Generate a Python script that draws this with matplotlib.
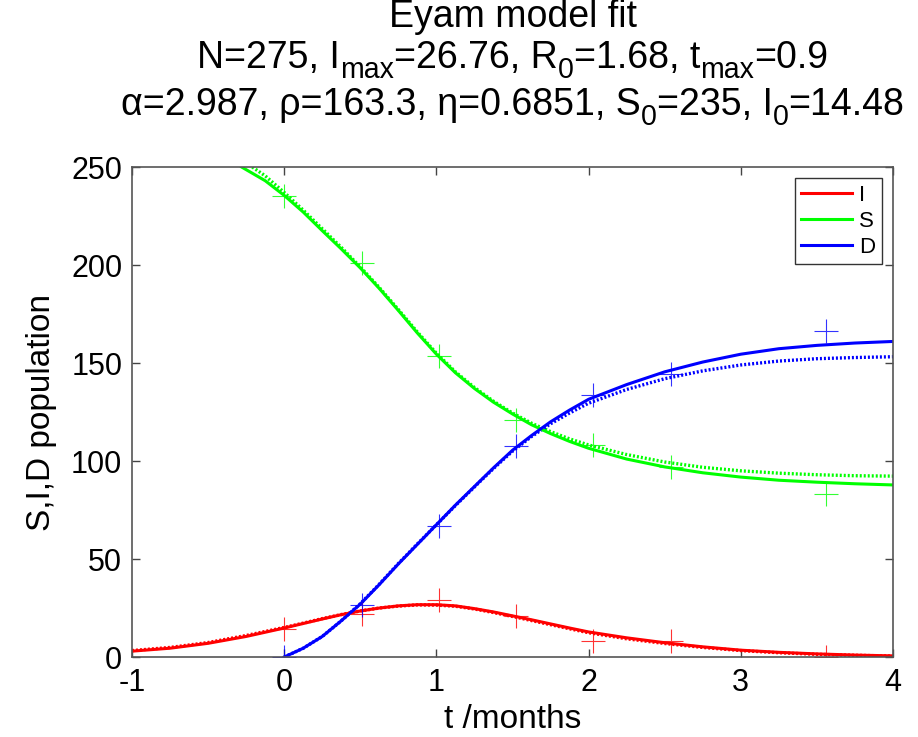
import numpy as np
import matplotlib
matplotlib.use('Agg')
from matplotlib import pyplot as plt

plt.rcParams['font.family'] = ['Liberation Sans', 'DejaVu Sans']
plt.rcParams['axes.unicode_minus'] = False

# observed data (months since first record)
t_obs = [0, 0.51, 1.02, 1.52, 2.03, 2.54, 3.56]
S_obs = [235, 201, 153.5, 121, 108, 97, 83]
I_obs = [14.5, 22, 29, 21, 8, 8, 0]
D_obs = [0, 26.5, 67, 107.5, 133.5, 144.5, 166.5]

# fitted curves: solid = main fit, dotted = alternative fit
t_I = [-1, -0.75, -0.5, -0.25, 0, 0.125, 0.25, 0.375, 0.5, 0.625, 0.75, 0.875, 1.0,
       1.125, 1.25, 1.375, 1.5, 1.625, 1.75, 1.875, 2.0, 2.25, 2.5, 2.75, 3.0, 3.25, 3.5, 3.75, 4.0]
I_fit = [3, 4.5, 7, 10.5, 14.8, 17.1, 19.4, 21.6, 23.5, 25, 26.1, 26.7, 26.7,
         26.1, 24.7, 23, 21, 19, 16.9, 14.8, 12.8, 9.8, 7.3, 5.2, 3.5, 2.4, 1.6, 1.0, 0.6]
I_alt = [3.3, 4.9, 7.4, 11, 15.1, 17.3, 19.6, 21.7, 23.5, 25, 26, 26.6, 26.5,
         25.9, 24.5, 22.7, 20.7, 18.6, 16.5, 14.4, 12.4, 9.3, 6.9, 4.9, 3.3, 2.2, 1.4, 0.9, 0.5]

t_S = [-0.28, -0.125, 0, 0.125, 0.25, 0.375, 0.5, 0.625, 0.75, 0.875, 1.0, 1.125, 1.25,
       1.375, 1.5, 1.625, 1.75, 1.875, 2.0, 2.25, 2.5, 2.75, 3.0, 3.25, 3.5, 3.75, 4.0]
S_fit = [250, 243, 235.5, 227, 217.5, 208.2, 198.5, 188, 176.8, 165.3, 154.5, 145, 137,
         130, 124, 118.5, 114, 110, 106.5, 101, 97, 94, 91.8, 90.2, 89.2, 88.4, 87.8]
t_S2 = [-0.21, -0.125, 0, 0.125, 0.25, 0.375, 0.5, 0.625, 0.75, 0.875, 1.0, 1.125, 1.25,
        1.375, 1.5, 1.625, 1.75, 1.875, 2.0, 2.25, 2.5, 2.75, 3.0, 3.25, 3.5, 3.75, 4.0]
S_alt = [250, 245.5, 237, 228, 218.5, 209, 199, 188.5, 177.3, 165.8, 155, 145.5, 137.5,
         130.5, 124.5, 119.3, 115, 111.3, 108.2, 103.3, 99.5, 96.8, 95, 93.8, 93, 92.5, 92.3]

t_D = [0, 0.125, 0.25, 0.375, 0.5, 0.625, 0.75, 0.875, 1.0, 1.125, 1.25, 1.375, 1.5,
       1.625, 1.75, 1.875, 2.0, 2.25, 2.5, 2.75, 3.0, 3.25, 3.5, 3.75, 4.0]
D_fit = [0, 4.5, 10.5, 18.5, 27, 37, 47.5, 57.5, 67.5, 77.5, 87, 96.5, 105.5,
         113, 120, 126, 131.5, 139, 145.5, 150.5, 154.5, 157.3, 159, 160.2, 161]
D_alt = [0, 4.5, 10.5, 18.5, 27.2, 37.2, 47.7, 57.7, 67.5, 77.3, 86.8, 96.2, 105,
         112.5, 119, 124.5, 129.5, 136.5, 142, 146, 149, 151, 152.2, 152.8, 153.2]

W, H = 918, 737
fig = plt.figure(figsize=(W / 100, H / 100), dpi=100)
ax = fig.add_axes([0.1438, 0.1085, 0.829, 0.6649])

red, green, blue = '#ff0000', '#00ff00', '#0000ff'
dots = (0, (0.6, 0.6))

ax.plot(t_I, I_alt, color=red, lw=2.4, linestyle=dots)
ax.plot(t_S2, S_alt, color=green, lw=2.4, linestyle=dots)
ax.plot(t_D, D_alt, color=blue, lw=2.4, linestyle=dots)
lI, = ax.plot(t_I, I_fit, color=red, lw=2.2, label='I')
lS, = ax.plot(t_S, S_fit, color=green, lw=2.2, label='S')
lD, = ax.plot(t_D, D_fit, color=blue, lw=2.2, label='D')

ax.plot(t_obs, I_obs, '+', color=red, ms=17, mew=0.8, alpha=0.8)
ax.plot(t_obs, S_obs, '+', color=green, ms=17, mew=0.8, alpha=0.8)
ax.plot(t_obs, D_obs, '+', color=blue, ms=17, mew=0.8, alpha=0.8)

ax.set_xlim(-1, 4)
ax.set_ylim(0, 250)
ax.set_xticks([-1, 0, 1, 2, 3, 4])
ax.set_yticks([0, 50, 100, 150, 200, 250])
ax.tick_params(direction='in', length=6, width=1, top=True, right=True,
               labelsize=22, colors='#444444', labelcolor='black')
ax.tick_params(axis='x', pad=8)
ax.tick_params(axis='y', pad=7)
for s in ax.spines.values():
    s.set_color('#555555')
    s.set_linewidth(1.2)

ax.set_xlabel('t /months', fontsize=24, labelpad=4)
ax.set_ylabel('S,I,D population', fontsize=24, labelpad=10)

leg = ax.legend(handles=[lI, lS, lD], loc='upper right', fontsize=16,
                handlelength=2.3, handletextpad=0.3, borderpad=0.3,
                labelspacing=0.22, fancybox=False, framealpha=1,
                borderaxespad=0.5)
leg.get_frame().set_edgecolor('#333333')
leg.get_frame().set_linewidth(1)

# title lines with dropped subscripts, laid out piece by piece
title_size = 27
sub_scale = 0.76
sub_drop = 10  # pixels
cx = (0.1438 + 0.829 / 2) * W
renderer = fig.canvas.get_renderer()


def title_line(ybase, pieces):
    items = []
    for s, sub in pieces:
        fs = title_size * sub_scale if sub else title_size
        t = fig.text(0, ybase / H, s, fontsize=fs, va='baseline', ha='left')
        items.append((t, sub, t.get_window_extent(renderer).width))
    x = cx - sum(w for _, _, w in items) / 2
    for t, sub, w in items:
        y = ybase - sub_drop if sub else ybase
        t.set_position((x / W, y / H))
        x += w


title_line(H - 27, [('Eyam model fit', False)])
title_line(H - 68, [('N=275, I', False), ('max', True), ('=26.76, R', False), ('0', True),
                    ('=1.68, t', False), ('max', True), ('=0.9', False)])
title_line(H - 115, [('α=2.987, ρ=163.3, η=0.6851, S', False), ('0', True),
                     ('=235, I', False), ('0', True), ('=14.48', False)])

fig.savefig('out.png', dpi=100)
